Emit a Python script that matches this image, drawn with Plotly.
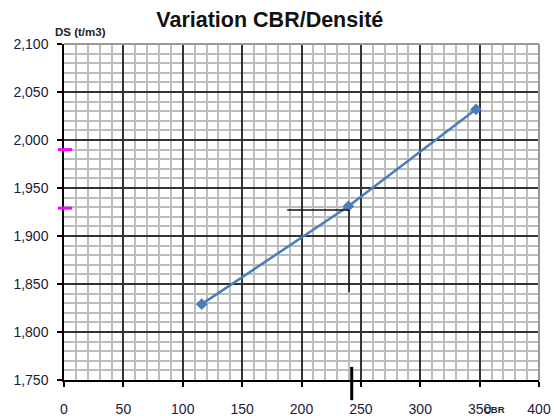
import plotly.graph_objects as go

# Data
cbr = [116, 239.5, 347]
ds = [1.829, 1.931, 2.032]

x_ticks = [0, 50, 100, 150, 200, 250, 300, 350, 400]
y_ticks = [1.75, 1.80, 1.85, 1.90, 1.95, 2.00, 2.05, 2.10]
y_tick_labels = ["1,750", "1,800", "1,850", "1,900", "1,950", "2,000", "2,050", "2,100"]

# Reading guides (data units)
guide_h_x = [188, 240]
guide_h_y = 1.927
guide_v_x = 240
guide_v_y = [1.927, 1.8415]
axis_mark_x = 242.3
pink_marks_y = [1.990, 1.929]

x_range = [0, 400]
y_range = [1.75, 2.10]

fig = go.Figure()
fig.add_trace(go.Scatter(
    x=cbr, y=ds, mode="lines+markers",
    line=dict(color="#4a7ebb", width=2.5),
    marker=dict(symbol="diamond", size=9, color="#4a7ebb"),
    showlegend=False, hoverinfo="x+y",
))

shapes = []
shapes.append(dict(type="line", xref="x", yref="y", x0=guide_h_x[0], x1=guide_h_x[1],
                   y0=guide_h_y, y1=guide_h_y, line=dict(color="#111", width=1.5)))
shapes.append(dict(type="line", xref="x", yref="y", x0=guide_v_x, x1=guide_v_x,
                   y0=guide_v_y[0], y1=guide_v_y[1], line=dict(color="#111", width=1.5)))
shapes.append(dict(type="line", xref="x", yref="paper", x0=axis_mark_x, x1=axis_mark_x,
                   y0=0.039, y1=-0.06, line=dict(color="#000", width=3)))
for v in pink_marks_y:
    py = (v - y_range[0]) / (y_range[1] - y_range[0])
    shapes.append(dict(type="line", xref="paper", yref="paper", x0=-0.013, x1=0.017,
                       y0=py, y1=py, line=dict(color="#ff00ff", width=3)))
shapes.append(dict(type="line", xref="paper", yref="paper", x0=0, x1=1, y0=1, y1=1,
                   line=dict(color="#999", width=2)))
shapes.append(dict(type="line", xref="paper", yref="paper", x0=1, x1=1, y0=0, y1=1,
                   line=dict(color="#999", width=2)))

fig.update_layout(
    width=554, height=416,
    margin=dict(l=64, r=15, t=43.5, b=36, autoexpand=False),
    paper_bgcolor="white", plot_bgcolor="white",
    font=dict(family="Liberation Sans, Arial, sans-serif", size=14, color="#1a1a3a"),
    title=dict(text="<b>Variation CBR/Densité</b>", x=0.487, xanchor="center",
               xref="container", yref="container",
               y=0.952, yanchor="middle", font=dict(size=21.5, color="#111")),
    shapes=shapes,
    annotations=[
        dict(text="<b>DS (t/m3)</b>", xref="paper", yref="paper", x=-0.024, y=1.037,
             xanchor="left", yanchor="middle", showarrow=False,
             font=dict(size=11.5, color="#222")),
        dict(text="<b>CBR</b>", xref="paper", yref="paper", x=0.907, y=-0.088,
             xanchor="center", yanchor="middle", showarrow=False,
             font=dict(size=9.5, color="#222")),
    ],
)

fig.update_xaxes(
    range=x_range, tickvals=x_ticks, ticktext=[str(t) for t in x_ticks],
    showline=True, linecolor="#000", linewidth=1.5,
    ticks="outside", ticklen=5, tickcolor="#000", tickwidth=1.5,
    ticklabelstandoff=10,
    showgrid=True, gridcolor="#333", gridwidth=1.5,
    minor=dict(dtick=10, showgrid=True, gridcolor="#bdbdbd", gridwidth=2, ticks=""),
    zeroline=False, fixedrange=True, automargin=False,
)
fig.update_yaxes(
    range=y_range, tickvals=y_ticks, ticktext=y_tick_labels,
    showline=True, linecolor="#000", linewidth=1.5,
    ticks="outside", ticklen=5, tickcolor="#000", tickwidth=1.5,
    ticklabelstandoff=6,
    showgrid=True, gridcolor="#333", gridwidth=1.5,
    minor=dict(dtick=0.01, showgrid=True, gridcolor="#bdbdbd", gridwidth=2, ticks=""),
    zeroline=False, fixedrange=True, automargin=False,
)

fig.write_html("out.html", config={"displayModeBar": False},
               post_script="document.body.style.margin='0';")
